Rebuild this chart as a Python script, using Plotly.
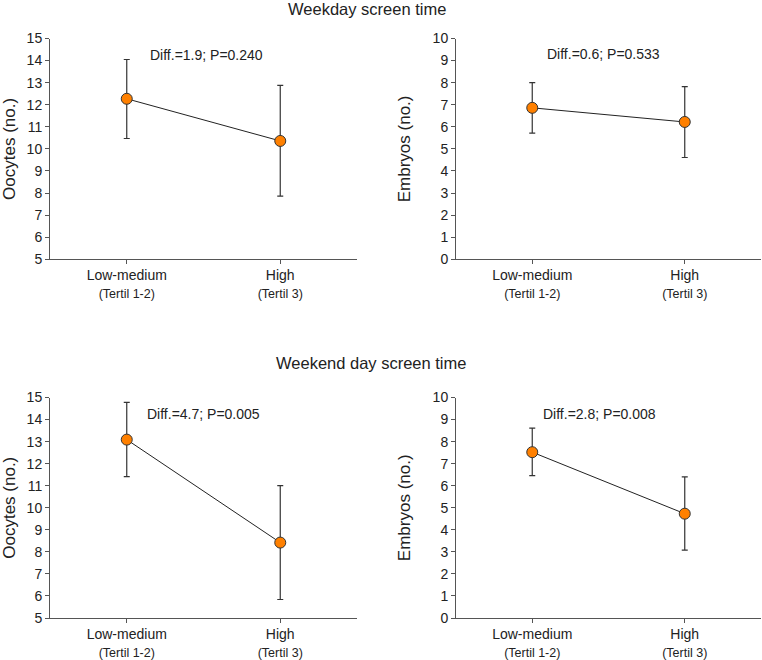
import plotly.graph_objects as go

categories = ["Low-medium", "High"]
category_sub = ["(Tertil 1-2)", "(Tertil 3)"]

section_titles = ["Weekday screen time", "Weekend day screen time"]

# Weekday
wd_oocytes = [12.27, 10.36]
wd_oocytes_hi = [14.05, 12.88]
wd_oocytes_lo = [10.47, 7.86]
wd_embryos = [6.86, 6.22]
wd_embryos_hi = [8.00, 7.82]
wd_embryos_lo = [5.71, 4.61]

# Weekend day
we_oocytes = [13.09, 8.42]
we_oocytes_hi = [14.78, 11.00]
we_oocytes_lo = [11.41, 5.84]
we_embryos = [7.52, 4.73]
we_embryos_hi = [8.61, 6.40]
we_embryos_lo = [6.46, 3.08]

annotations_txt = ["Diff.=1.9; P=0.240", "Diff.=0.6; P=0.533",
                   "Diff.=4.7; P=0.005", "Diff.=2.8; P=0.008"]
y_titles = ["Oocytes (no.)", "Embryos (no.)", "Oocytes (no.)", "Embryos (no.)"]
y_ranges = [[5, 15], [0, 10], [5, 15], [0, 10]]

FONT = "Arial, Liberation Sans, sans-serif"
W, H = 762, 660

panels = [
    (wd_oocytes, wd_oocytes_hi, wd_oocytes_lo),
    (wd_embryos, wd_embryos_hi, wd_embryos_lo),
    (we_oocytes, we_oocytes_hi, we_oocytes_lo),
    (we_embryos, we_embryos_hi, we_embryos_lo),
]

xdoms = [[50 / W, 357 / W], [456 / W, 761 / W]]
ydoms = [[1 - 259.3 / H, 1 - 38.5 / H], [1 - 618 / H, 1 - 397.5 / H]]
ann_pos = [(0.52, 0.926), (0.465, 0.928), (0.50, 0.924), (0.44, 0.927)]
standoffs = [10, 17, 10, 17]

fig = go.Figure()
tick_text = [f"<span style='font-size:14px'>{c}</span><br><span style='font-size:12.5px'>{s}</span>"
             for c, s in zip(categories, category_sub)]

layout = dict(width=W, height=H, margin=dict(l=0, r=0, t=0, b=0, autoexpand=False),
              paper_bgcolor="white", plot_bgcolor="white", showlegend=False,
              font=dict(family=FONT, color="#222", size=14))
annots = []
for i, (mean, hi, lo) in enumerate(panels):
    r, c = divmod(i, 2)
    ax = "" if i == 0 else str(i + 1)
    fig.add_trace(go.Scatter(
        x=[0, 1], y=mean, mode="lines+markers",
        xaxis="x" + ax, yaxis="y" + ax,
        line=dict(color="#222", width=1),
        marker=dict(size=11, color="#FF8000", line=dict(color="#333", width=1)),
        error_y=dict(type="data", symmetric=False,
                     array=[h - m for h, m in zip(hi, mean)],
                     arrayminus=[m - l for m, l in zip(mean, lo)],
                     color="#333", thickness=1.2, width=3),
    ))
    layout["xaxis" + ax] = dict(
        domain=xdoms[c], range=[-0.5, 1.5], anchor="y" + ax, automargin=False,
        tickvals=[0, 1], ticktext=tick_text, showline=True, linecolor="#555",
        linewidth=1, ticks="outside", ticklen=4, tickcolor="#555",
        showgrid=False, zeroline=False, tickfont=dict(size=13.4, color="#222"))
    layout["yaxis" + ax] = dict(
        domain=ydoms[r], range=y_ranges[i], anchor="x" + ax, automargin=False,
        dtick=1, showline=True, linecolor="#555", linewidth=1,
        ticks="outside", ticklen=4, tickcolor="#555", showgrid=False,
        zeroline=False, tickfont=dict(size=14, color="#222"),
        title=dict(text=y_titles[i], font=dict(size=17, color="#222"), standoff=standoffs[i]))
    yr = y_ranges[i]
    annots.append(dict(text=annotations_txt[i], xref="x" + ax, yref="y" + ax,
                       x=ann_pos[i][0], y=yr[0] + ann_pos[i][1] * (yr[1] - yr[0]),
                       xanchor="center", yanchor="middle",
                       showarrow=False, font=dict(size=14, color="#222")))

annots.append(dict(text=section_titles[0], xref="paper", yref="paper",
                   x=367 / W, y=1 - 9 / H, xanchor="center", yanchor="middle",
                   showarrow=False, font=dict(size=16.5, color="#222")))
annots.append(dict(text=section_titles[1], xref="paper", yref="paper",
                   x=371 / W, y=1 - 363 / H, xanchor="center", yanchor="middle",
                   showarrow=False, font=dict(size=16.5, color="#222")))
layout["annotations"] = annots
fig.update_layout(**layout)
fig.write_html("out.html", config={"displayModeBar": False},
               post_script="document.body.style.margin='0';")
